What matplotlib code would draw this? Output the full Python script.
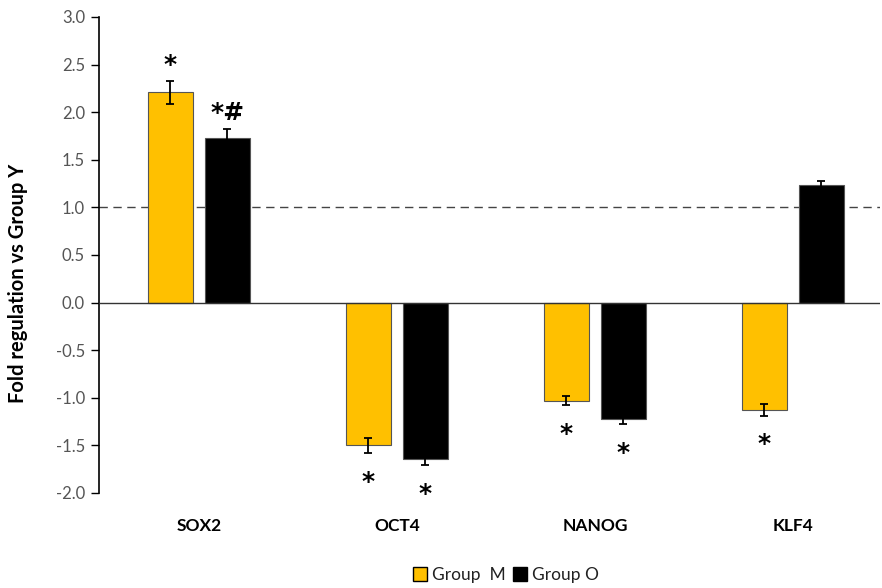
import numpy as np
import matplotlib.pyplot as plt
from matplotlib.patches import Patch

plt.rcParams['font.family'] = ['Lato', 'DejaVu Sans']

genes = ['SOX2', 'OCT4', 'NANOG', 'KLF4']
group_m = [2.21, -1.50, -1.03, -1.13]
group_m_err = [0.12, 0.08, 0.05, 0.06]
group_o = [1.73, -1.64, -1.22, 1.23]
group_o_err = [0.09, 0.07, 0.06, 0.05]
marks_m = ['*', '*', '*', '*']
marks_o = ['*#', '*', '*', '']

x = np.arange(len(genes))
w = 0.227
off = 0.144

fig = plt.figure(figsize=(8.82, 5.88), dpi=100)
ax = fig.add_axes([0.1122, 0.1616, 0.8855, 0.8095])

ax.bar(x - off, group_m, w, color='#FFC000', edgecolor='#555555', linewidth=0.8,
       yerr=group_m_err, error_kw=dict(ecolor='black', elinewidth=1.3, capsize=3, capthick=1.3))
ax.bar(x + off, group_o, w, color='black', edgecolor='#555555', linewidth=0.8,
       yerr=group_o_err, error_kw=dict(ecolor='black', elinewidth=1.3, capsize=3, capthick=1.3))

# significance markers just past the error bar
for xs, vals, errs, marks in [(x - off, group_m, group_m_err, marks_m),
                              (x + off, group_o, group_o_err, marks_o)]:
    for xi, v, e, m in zip(xs, vals, errs, marks):
        if not m:
            continue
        y = v + e + 0.17 if v >= 0 else v - e - 0.30
        ax.text(xi, y, m, ha='center', va='center', fontsize=18,
                fontweight='bold', color='black', family=['DejaVu Sans'])

ax.axhline(1.0, color='#444444', linestyle=(0, (6, 4)), linewidth=1.0, zorder=0)
ax.axhline(0.0, color='#333333', linewidth=1.0, zorder=3)

ax.set_xlim(-0.505, 3.44)
ax.set_ylim(-2.0, 3.0)
ticks = np.arange(-2.0, 3.01, 0.5)
ax.set_yticks(ticks)
ax.set_yticklabels([f'{v:.1f}' for v in ticks])
ax.set_xticks(x)
ax.set_xticklabels(genes, fontweight='bold', fontsize=12.5)
ax.tick_params(axis='x', length=0, pad=18)
ax.tick_params(axis='y', direction='out', length=6, width=1, labelsize=12,
               labelcolor='#555555', color='black', pad=4)

for side in ['top', 'right', 'bottom']:
    ax.spines[side].set_visible(False)
ax.spines['left'].set_linewidth(1.2)

fig.text(18 / 882, 1 - 283 / 588, 'Fold regulation vs Group Y', rotation=90,
         ha='center', va='center', fontweight='bold', fontsize=14.5)

handles = [Patch(facecolor='#FFC000', edgecolor='black', label='Group  M'),
           Patch(facecolor='black', edgecolor='black', label='Group O')]
fig.legend(handles=handles, loc='center', bbox_to_anchor=(0.574, 0.022), ncol=2,
           frameon=False, fontsize=12.5, handlelength=0.8, handleheight=0.8,
           handletextpad=0.3, columnspacing=0.4, labelcolor='#222222')

fig.savefig('out.png', dpi=100)
